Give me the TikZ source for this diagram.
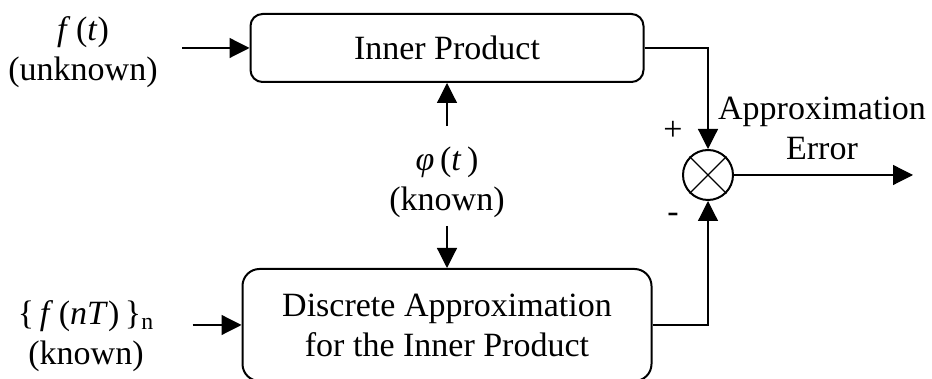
\documentclass[tikz,border=0pt]{standalone}
\usepackage{fontspec}
\setmainfont{Liberation Serif}
\usetikzlibrary{arrows.meta,positioning,calc}
\tikzset{
  bloc/.style={rectangle, rounded corners=#1, draw, line width=1pt, align=center,
               font=\fontsize{17}{20}\selectfont},
  lab/.style={align=center, inner sep=0pt, font=\fontsize{17}{20}\selectfont},
  arr/.style={-{Triangle[length=10pt,width=10pt]}, line width=0.6pt},
}
\newcommand{\va}[1]{\textit{#1}}

\begin{document}
\begin{tikzpicture}
        \useasboundingbox (0,0) rectangle (466pt,189.5pt);
        \node[bloc=6pt, minimum width=196.5pt, minimum height=34pt] (inner) at (223.5pt,165.5pt) {Inner Product};
        \node[bloc=8.5pt, minimum width=204.5pt, minimum height=56pt] (discr) at (223.5pt,27pt) {Discrete Approximation\\for the Inner Product};
        \node[lab] (phi) at (223.5pt,98.5pt) {\va{φ}\,(\va{t}\,)\\(known)};
        \node[lab] (ft) at (41.5pt,163.5pt) {\va{f}\,(\va{t})\\(unknown)};
        \node[lab] (fnt) at (43pt,21.5pt) {\{\,\va{f}\,(\va{nT})\,\}\textsubscript{n}\\(known)};
        \node[circle, draw, line width=1pt, minimum size=25pt, inner sep=0pt] (sum) at (354pt,102pt) {};
        \draw[line width=0.6pt] (sum.north east) -- (sum.south west) (sum.north west) -- (sum.south east);
        \node[lab] (err) at (411pt,125.5pt) {Approximation\\Error};
        \node[lab] (plus) at (336.5pt,124pt) {+};
        \node[lab] (minus) at (336.5pt,80.5pt) {-};
        \coordinate (out) at (456.5pt,102pt);
        \draw[arr, shorten <=12pt] (ft.east |- inner) -- (inner);
        \draw[arr, shorten <=19pt] (fnt.east |- discr) -- (discr);
        \draw[arr, shorten <=10pt] (phi) -- (inner);
        \draw[arr, shorten <=4pt] (phi) -- (discr);
        \draw[arr] (inner) -| (sum); \draw[arr] (discr) -| (sum);
        \draw[arr] (sum) -- (out);
      \end{tikzpicture}
\end{document}
